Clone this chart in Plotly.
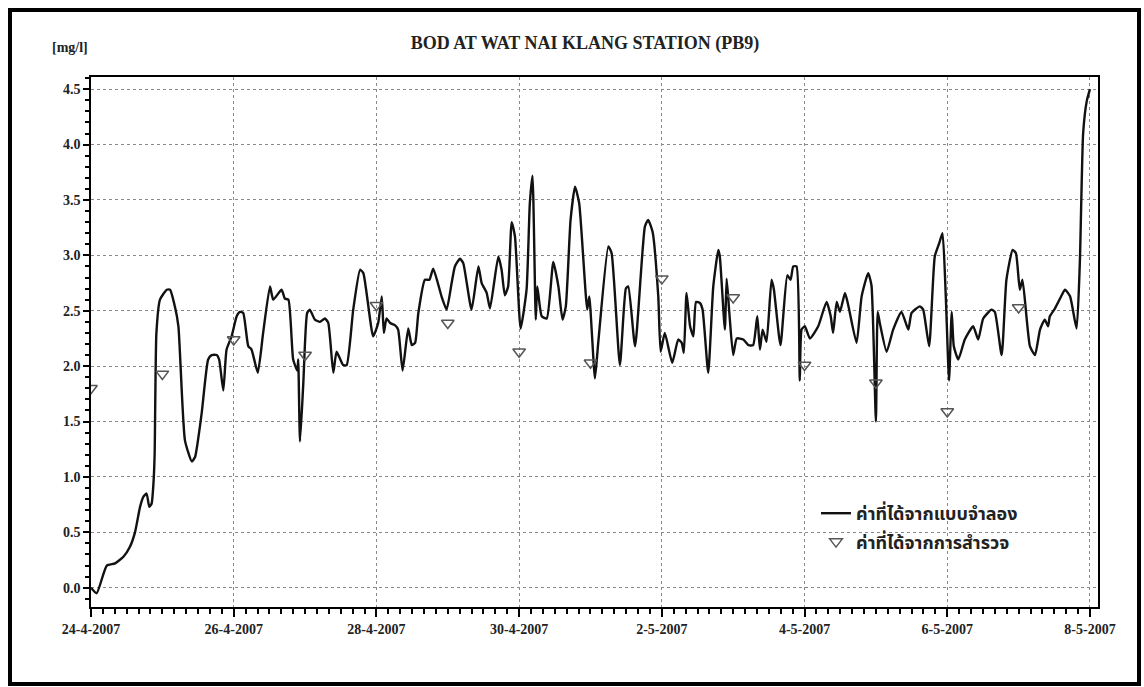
import pandas as pd
import plotly.graph_objects as go

# ---- data ----
start_date = "2007-04-24"

model_hours = [0.0, 1.9, 5.3, 8.1, 10.9, 13.1, 14.8, 16.5, 17.6, 18.7, 19.6, 20.4, 21.0, 21.4, 22.0,
               23.2, 25.5, 26.6, 28.2, 29.4, 31.6, 33.9, 35.0, 37.2, 39.4, 40.6, 42.3, 43.1, 44.5,
               45.6, 47.3, 49.0, 50.1, 51.2, 52.9, 54.0, 56.1, 57.9, 60.2, 61.3, 64.1, 65.2, 66.4,
               68.0, 69.4, 69.7, 70.3, 71.4, 72.7, 73.6, 75.3, 77.0, 78.7, 79.8, 81.5, 82.6, 84.8,
               86.0, 88.2, 90.5, 91.6, 94.9, 96.6, 97.8, 98.5, 99.4, 100.6, 102.2, 103.3, 104.8,
               106.7, 107.9, 109.0, 110.1, 112.3, 113.8, 115.1, 117.9, 119.6, 121.3, 122.4, 124.1,
               125.2, 128.0, 130.3, 131.4, 133.1, 134.2, 137.0, 138.1, 139.2, 140.3, 141.5, 142.6,
               144.5, 146.5, 147.6, 148.5, 149.6, 150.1, 151.6, 153.3, 155.5, 157.2, 158.6, 159.7,
               161.3, 162.8, 164.2, 166.9, 167.6, 169.5, 170.6, 174.0, 175.1, 177.9, 179.9, 180.7,
               183.0, 186.3, 187.4, 188.9, 190.8, 191.6, 193.0, 195.5, 197.5, 198.7, 199.4, 200.3,
               201.5, 202.6, 203.5, 204.8, 205.7, 207.6, 209.3, 211.0, 211.5, 213.2, 213.8, 214.7,
               216.0, 217.2, 219.4, 221.1, 222.7, 224.1, 225.0, 225.9, 227.2, 228.9, 229.7, 231.9,
               234.2, 235.3, 236.2, 237.3, 238.4, 239.0, 240.1, 241.8, 244.6, 247.4, 248.8, 249.6,
               250.8, 251.9, 253.6, 254.7, 257.5, 259.2, 261.4, 262.5, 264.0, 264.6, 265.3, 267.6,
               269.8, 272.6, 274.9, 276.0, 278.8, 279.9, 281.9, 283.8, 285.3, 286.4, 287.5, 288.6,
               289.5, 290.2, 291.7, 293.9, 296.7, 298.4, 300.1, 302.9, 304.0, 306.3, 307.9, 310.0,
               311.1, 312.4, 313.3, 315.8, 317.5, 319.2, 320.8, 321.9, 322.5, 324.2, 326.5, 327.6,
               329.3, 331.5, 332.6, 333.7, 334.9, 336.0]

model_values = [0.00, -0.05, 0.20, 0.22, 0.28, 0.37, 0.50, 0.73, 0.82, 0.85, 0.73, 0.76, 0.94, 1.20, 2.30,
                2.60, 2.69, 2.69, 2.54, 2.36, 1.33, 1.14, 1.18, 1.57, 2.06, 2.10, 2.10, 2.06, 1.78,
                2.15, 2.27, 2.45, 2.49, 2.48, 2.18, 2.15, 1.94, 2.30, 2.72, 2.60, 2.69, 2.61, 2.60,
                2.06, 1.96, 2.06, 1.32, 1.84, 2.48, 2.51, 2.42, 2.40, 2.43, 2.39, 1.94, 2.13, 2.01,
                2.01, 2.51, 2.87, 2.84, 2.27, 2.39, 2.63, 2.30, 2.43, 2.39, 2.37, 2.33, 1.96,
                2.34, 2.19, 2.21, 2.48, 2.78, 2.78, 2.88, 2.63, 2.51, 2.75, 2.90, 2.97,
                2.93, 2.51, 2.90, 2.75, 2.66, 2.52, 2.99, 2.87, 2.64, 2.72, 3.30, 3.17,
                2.34, 2.69, 3.47, 3.72, 2.42, 2.72, 2.45, 2.43, 2.94, 2.72, 2.42, 2.54,
                3.32, 3.62, 3.47, 2.51, 2.63, 1.89, 2.21, 3.08, 3.02, 2.01, 2.70, 2.72,
                2.18, 3.26, 3.32, 3.21, 2.63, 2.13, 2.30, 2.03, 2.24, 2.21, 2.12, 2.66,
                2.36, 2.27, 2.58, 2.57, 2.51, 1.94, 2.72, 3.05, 2.99, 2.33, 2.79, 2.48,
                2.10, 2.25, 2.24, 2.19, 2.19, 2.45, 2.15, 2.33, 2.22, 2.78, 2.69, 2.19,
                2.82, 2.78, 2.90, 2.90, 1.87, 2.33, 2.36, 2.25, 2.36, 2.58, 2.45, 2.30,
                2.58, 2.49, 2.66, 2.55, 2.21, 2.63, 2.84, 2.73, 1.50, 2.49, 2.39, 2.13,
                2.33, 2.49, 2.33, 2.48, 2.54, 2.51, 2.18, 2.99, 3.11, 3.20, 2.63, 1.87,
                2.49, 2.18, 2.06, 2.24, 2.36, 2.24, 2.43, 2.51, 2.49, 2.10, 2.78, 3.05,
                3.02, 2.69, 2.78, 2.18, 2.10, 2.33, 2.42, 2.36, 2.45, 2.52, 2.64, 2.69,
                2.63, 2.34, 2.94, 4.10, 4.39, 4.50]

obs_hours = [0, 24, 48, 72, 96, 120, 144, 168, 192, 216, 240, 264, 288, 312]
obs_values = [1.80, 1.93, 2.24, 2.10, 2.55, 2.39, 2.13, 2.03, 2.79, 2.62, 2.01, 1.85, 1.59, 2.53]

tick_days = [0, 2, 4, 6, 8, 10, 12, 14]
tick_labels = ["24-4-2007", "26-4-2007", "28-4-2007", "30-4-2007",
               "2-5-2007", "4-5-2007", "6-5-2007", "8-5-2007"]
y_ticks = [0.0, 0.5, 1.0, 1.5, 2.0, 2.5, 3.0, 3.5, 4.0, 4.5]
y_tick_labels = ["0.0", "0.5", "1.0", "1.5", "2.0", "2.5", "3.0", "3.5", "4.0", "4.5"]

title_text = "BOD AT WAT NAI KLANG STATION (PB9)"
unit_text = "[mg/l]"
legend_model = "ค่าที่ได้จากแบบจำลอง"
legend_obs = "ค่าที่ได้จากการสำรวจ"

# ---- build ----
base = pd.Timestamp(start_date)
x_model = base + pd.to_timedelta(model_hours, unit="h")
x_obs = base + pd.to_timedelta(obs_hours, unit="h")
tick_vals = [base + pd.Timedelta(days=d) for d in tick_days]

serif = "Liberation Serif, Times New Roman, serif"
thai = "Noto Sans Thai, Tahoma, Loma, Garuda, Noto Sans, DejaVu Sans, sans-serif"

fig = go.Figure()
fig.add_trace(go.Scatter(
    x=x_model, y=model_values, mode="lines", name=legend_model,
    line=dict(color="#111111", width=2.4, shape="spline", smoothing=0.5), legendgroup="a",
))
fig.add_trace(go.Scatter(
    x=x_obs, y=obs_values, mode="markers", name=legend_obs,
    marker=dict(symbol="triangle-down-open", size=11, color="#555555", line=dict(width=1.5)),
    legendgroup="b",
))

W, H = 1144, 687
L, R, T, B = 91, 46, 77, 80
pw, ph = W - L - R, H - T - B

def px_x(px):
    return (px - L) / pw

def px_y(py):
    return (H - B - py) / ph

fig.update_layout(
    width=W, height=H,
    margin=dict(l=L, r=R, t=T, b=B),
    paper_bgcolor="white", plot_bgcolor="white",
    title=dict(text=title_text, x=585 / W, xanchor="center", y=1 - 43 / H, yanchor="middle",
               font=dict(family=serif, size=18, color="#222222", weight="bold")),
    showlegend=True,
    legend=dict(x=px_x(816), y=px_y(495), xanchor="left", yanchor="top",
                bgcolor="rgba(0,0,0,0)", tracegroupgap=2, itemwidth=30,
                font=dict(family=thai, size=18, color="#222222", weight="bold")),
    xaxis=dict(
        type="date",
        range=[base, base + pd.Timedelta(hours=14 * 24 + 2.7)],
        tickmode="array", tickvals=tick_vals, ticktext=tick_labels,
        tickfont=dict(family=serif, size=14, color="#222222", weight="bold"),
        ticks="outside", ticklen=8, tickwidth=1.5, tickcolor="black",
        minor=dict(dtick=4 * 3600 * 1000, ticks="outside", ticklen=5, tickcolor="black",
                   showgrid=False),
        showgrid=True, gridcolor="#8a8a8a", gridwidth=1, griddash="dot",
        showline=True, linecolor="black", linewidth=1.5, mirror=True,
        zeroline=False, tickangle=0,
    ),
    yaxis=dict(
        range=[-0.174, 4.61],
        tickmode="array", tickvals=y_ticks, ticktext=y_tick_labels,
        tickfont=dict(family=serif, size=14, color="#222222", weight="bold"),
        ticks="outside", ticklen=6, tickwidth=1.5, tickcolor="black",
        minor=dict(dtick=0.1, tick0=0, ticks="outside", ticklen=4, tickcolor="black",
                   showgrid=False),
        showgrid=True, gridcolor="#8a8a8a", gridwidth=1, griddash="dot",
        showline=True, linecolor="black", linewidth=1.5, mirror=True,
        zeroline=False,
    ),
    annotations=[dict(
        text=unit_text, xref="paper", yref="paper", x=px_x(50), y=px_y(48),
        xanchor="left", yanchor="middle", showarrow=False,
        font=dict(family=serif, size=14, color="#222222", weight="bold"),
    )],
    shapes=[dict(
        type="rect", xref="paper", yref="paper",
        x0=px_x(10), x1=px_x(1139), y0=px_y(684), y1=px_y(10),
        line=dict(color="black", width=4), fillcolor="rgba(0,0,0,0)", layer="below",
    )],
)

fig.write_html(
    "out.html",
    config={"displayModeBar": False},
    post_script="document.body.style.margin='0';document.body.style.overflow='hidden';",
)
